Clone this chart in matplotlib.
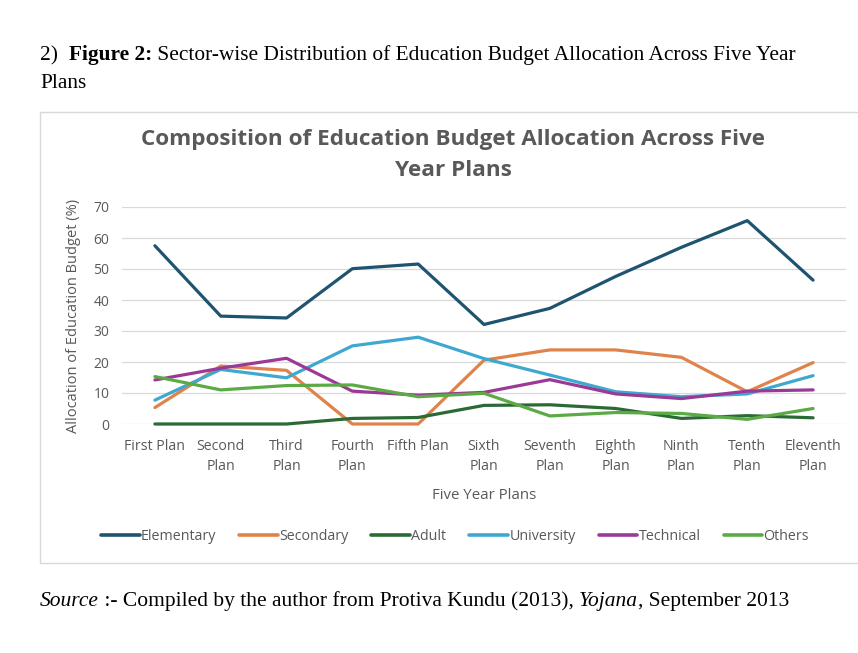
import matplotlib
matplotlib.use("Agg")
import matplotlib.pyplot as plt
from matplotlib.patches import Rectangle

# ---------------- data ----------------
plans = ["First Plan", "Second\nPlan", "Third\nPlan", "Fourth\nPlan", "Fifth Plan",
         "Sixth\nPlan", "Seventh\nPlan", "Eighth\nPlan", "Ninth\nPlan", "Tenth\nPlan",
         "Eleventh\nPlan"]
elementary = [57.5, 34.8, 34.2, 50.1, 51.6, 32.1, 37.3, 47.6, 57.0, 65.6, 46.4]
secondary = [5.3, 18.7, 17.3, 0.0, 0.0, 20.6, 23.9, 23.9, 21.5, 10.4, 19.8]
adult = [0.0, 0.0, 0.0, 1.8, 2.1, 6.0, 6.2, 5.0, 1.8, 2.7, 2.0]
university = [7.7, 17.6, 14.9, 25.2, 28.0, 21.1, 15.8, 10.4, 8.8, 9.7, 15.6]
technical = [14.2, 18.0, 21.2, 10.6, 9.3, 10.2, 14.3, 9.7, 8.2, 10.6, 11.0]
others = [15.3, 11.0, 12.4, 12.6, 8.8, 9.9, 2.6, 3.7, 3.4, 1.5, 5.0]
yticks = [0, 10, 20, 30, 40, 50, 60, 70]

series = [("Elementary", elementary, "#1E5470"),
          ("Secondary", secondary, "#E0834A"),
          ("Adult", adult, "#2B6A35"),
          ("University", university, "#3FA8D0"),
          ("Technical", technical, "#9B3A96"),
          ("Others", others, "#5BAA45")]

W, H = 858, 653
GRAY = "#595959"
SANS = "Open Sans"
SERIF = "Liberation Serif"

fig = plt.figure(figsize=(W / 100, H / 100), dpi=100)
fig.patch.set_facecolor("white")

# chart frame
fig.patches.append(Rectangle((40 / W, 1 - 563 / H), (W - 38) / W, (563 - 112) / H,
                             transform=fig.transFigure, facecolor="none",
                             edgecolor="#D9D9D9", lw=1.0, zorder=-5))

ax = fig.add_axes([122 / W, 1 - 424 / H, (846 - 122) / W, (424 - 207) / H])
x = list(range(len(plans)))
for name, vals, col in series:
    ax.plot(x, vals, color=col, lw=2.3, label=name, clip_on=False,
            solid_capstyle="round", solid_joinstyle="round", zorder=3)

ax.set_xlim(-0.5, len(plans) - 0.5)
ax.set_ylim(0, 70)
ax.set_yticks(yticks)
ax.set_xticks(x)
ax.set_xticklabels(plans, fontsize=10.2, color=GRAY, family=SANS, linespacing=1.4)
ax.set_yticklabels([str(v) for v in yticks], fontsize=10, color=GRAY, family=SANS)
ax.tick_params(axis="both", length=0)
ax.tick_params(axis="x", pad=11)
ax.tick_params(axis="y", pad=9)
ax.grid(axis="y", color="#D9D9D9", lw=0.9)
ax.set_axisbelow(True)
for s in ax.spines.values():
    s.set_visible(False)
ax.set_facecolor("none")

ax.set_xlabel("Five Year Plans", fontsize=10.8, color=GRAY, family=SANS, labelpad=10)
ax.set_ylabel("Allocation of Education Budget (%)", fontsize=10.5, color=GRAY,
              family=SANS, labelpad=9)

# chart title
fig.text(453 / W, 1 - 140 / H, "Composition of Education Budget Allocation Across Five",
         ha="center", va="center", fontsize=16.2, fontweight="bold", color=GRAY, family=SANS)
fig.text(453 / W, 1 - 171 / H, "Year Plans",
         ha="center", va="center", fontsize=16.2, fontweight="bold", color=GRAY, family=SANS)

# legend
leg = fig.legend(loc="center", bbox_to_anchor=(455 / W, 1 - 537 / H), ncol=6,
                 frameon=False, handlelength=2.7, handletextpad=0.1,
                 columnspacing=1.6, prop={"family": SANS, "size": 10.3})
for t in leg.get_texts():
    t.set_color(GRAY)
for l in leg.get_lines():
    l.set_linewidth(2.6)

# document text around chart
renderer = fig.canvas.get_renderer()


def seq_text(x_px, y_px, parts, size):
    xx = x_px
    for s, style, weight in parts:
        t = fig.text(xx / W, 1 - y_px / H, s, fontstyle=style, fontweight=weight,
                     va="baseline", ha="left", fontsize=size, family=SERIF, color="black")
        xx += t.get_window_extent(renderer).width


seq_text(40, 60, [("2)  ", "normal", "normal"), ("Figure 2:", "normal", "bold"),
                  (" Sector-wise Distribution of Education Budget Allocation Across Five Year",
                   "normal", "normal")], 15.4)
seq_text(40, 88, [("Plans", "normal", "normal")], 15.4)
seq_text(40, 606, [("Source", "italic", "normal"), (" :- Compiled by the author from Protiva Kundu (2013), ", "normal", "normal"),
                   ("Yojana", "italic", "normal"), (", September 2013", "normal", "normal")], 15.5)

fig.savefig("out.png", dpi=100)
